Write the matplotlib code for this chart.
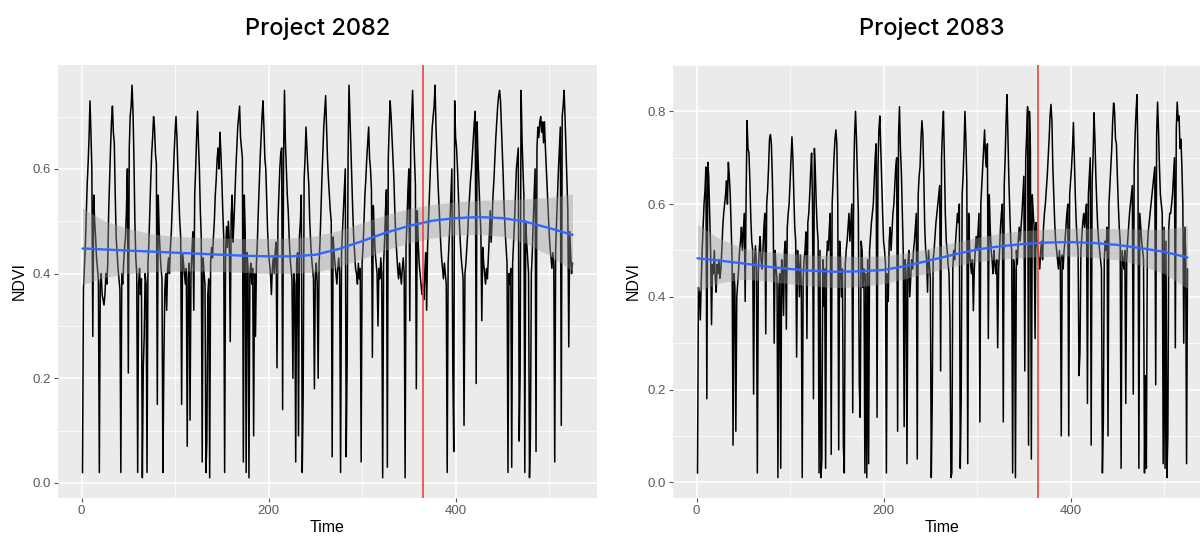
import numpy as np
import matplotlib
matplotlib.use("Agg")
import matplotlib.pyplot as plt

# ---------------- data ----------------
titles = ["Project 2082", "Project 2083"]
break_time = 365

ndvi_2082 = [
    0.02, 0.37, 0.41, 0.45, 0.51, 0.57, 0.61, 0.66, 0.73, 0.67, 0.60, 0.28, 0.55, 0.50, 0.47, 0.43, 0.41, 0.39, 0.02, 0.38, 0.40, 0.36, 0.35,
    0.34, 0.36, 0.40, 0.38, 0.42, 0.52, 0.58, 0.64, 0.69, 0.72, 0.67, 0.65, 0.55, 0.47, 0.44, 0.41, 0.39, 0.37, 0.02, 0.40, 0.38, 0.42, 0.45,
    0.47, 0.52, 0.60, 0.21, 0.64, 0.70, 0.72, 0.76, 0.71, 0.62, 0.50, 0.43, 0.40, 0.02, 0.38, 0.41, 0.36, 0.39, 0.01, 0.22, 0.28, 0.40, 0.38,
    0.02, 0.42, 0.46, 0.52, 0.58, 0.63, 0.66, 0.70, 0.68, 0.63, 0.61, 0.15, 0.55, 0.48, 0.44, 0.41, 0.39, 0.02, 0.23, 0.37, 0.40, 0.33, 0.41,
    0.43, 0.40, 0.45, 0.48, 0.53, 0.58, 0.63, 0.67, 0.70, 0.66, 0.60, 0.55, 0.50, 0.47, 0.15, 0.44, 0.42, 0.40, 0.38, 0.41, 0.07, 0.39, 0.42,
    0.12, 0.40, 0.44, 0.48, 0.33, 0.55, 0.60, 0.66, 0.71, 0.65, 0.60, 0.52, 0.47, 0.04, 0.43, 0.40, 0.38, 0.02, 0.08, 0.36, 0.39, 0.01, 0.42,
    0.45, 0.43, 0.47, 0.50, 0.55, 0.58, 0.62, 0.64, 0.60, 0.67, 0.63, 0.58, 0.52, 0.47, 0.02, 0.44, 0.49, 0.45, 0.50, 0.46, 0.27, 0.51, 0.55,
    0.46, 0.50, 0.55, 0.60, 0.64, 0.68, 0.70, 0.72, 0.66, 0.64, 0.62, 0.04, 0.55, 0.48, 0.02, 0.44, 0.41, 0.01, 0.40, 0.42, 0.38, 0.41, 0.09,
    0.40, 0.28, 0.42, 0.46, 0.52, 0.57, 0.62, 0.66, 0.70, 0.73, 0.68, 0.62, 0.60, 0.54, 0.48, 0.44, 0.42, 0.40, 0.36, 0.41, 0.43, 0.40, 0.44,
    0.46, 0.22, 0.50, 0.55, 0.60, 0.63, 0.64, 0.14, 0.62, 0.75, 0.65, 0.60, 0.55, 0.52, 0.47, 0.43, 0.41, 0.39, 0.20, 0.40, 0.38, 0.04, 0.42,
    0.44, 0.09, 0.47, 0.50, 0.55, 0.02, 0.17, 0.58, 0.62, 0.68, 0.64, 0.60, 0.57, 0.50, 0.46, 0.43, 0.41, 0.39, 0.18, 0.40, 0.42, 0.38, 0.20,
    0.42, 0.46, 0.52, 0.58, 0.63, 0.68, 0.71, 0.74, 0.68, 0.62, 0.58, 0.55, 0.52, 0.50, 0.05, 0.47, 0.44, 0.42, 0.40, 0.38, 0.41, 0.43, 0.40,
    0.02, 0.44, 0.48, 0.52, 0.56, 0.60, 0.05, 0.23, 0.62, 0.76, 0.70, 0.64, 0.58, 0.52, 0.47, 0.44, 0.41, 0.40, 0.38, 0.42, 0.39, 0.41, 0.04,
    0.42, 0.45, 0.50, 0.55, 0.58, 0.62, 0.65, 0.68, 0.62, 0.60, 0.56, 0.24, 0.53, 0.48, 0.44, 0.42, 0.40, 0.30, 0.41, 0.39, 0.43, 0.40, 0.01,
    0.42, 0.46, 0.52, 0.56, 0.03, 0.62, 0.68, 0.73, 0.70, 0.66, 0.62, 0.58, 0.52, 0.47, 0.44, 0.41, 0.39, 0.42, 0.40, 0.38, 0.41, 0.43, 0.40,
    0.01, 0.45, 0.50, 0.56, 0.60, 0.31, 0.64, 0.70, 0.75, 0.68, 0.62, 0.57, 0.18, 0.52, 0.46, 0.42, 0.40, 0.38, 0.36, 0.38, 0.35, 0.40, 0.44,
    0.33, 0.45, 0.50, 0.55, 0.60, 0.64, 0.68, 0.70, 0.72, 0.76, 0.68, 0.63, 0.58, 0.54, 0.50, 0.46, 0.43, 0.41, 0.39, 0.42, 0.40, 0.38, 0.02,
    0.42, 0.46, 0.50, 0.55, 0.60, 0.22, 0.06, 0.73, 0.66, 0.64, 0.60, 0.55, 0.50, 0.46, 0.43, 0.41, 0.39, 0.11, 0.40, 0.42, 0.45, 0.48, 0.52,
    0.55, 0.58, 0.60, 0.63, 0.66, 0.69, 0.71, 0.19, 0.69, 0.62, 0.57, 0.52, 0.48, 0.31, 0.45, 0.42, 0.40, 0.38, 0.41, 0.39, 0.43, 0.47, 0.52,
    0.46, 0.50, 0.55, 0.58, 0.62, 0.66, 0.69, 0.72, 0.74, 0.75, 0.73, 0.68, 0.63, 0.58, 0.52, 0.48, 0.45, 0.42, 0.02, 0.40, 0.38, 0.41, 0.03,
    0.42, 0.46, 0.50, 0.55, 0.60, 0.62, 0.64, 0.08, 0.21, 0.75, 0.66, 0.60, 0.55, 0.02, 0.50, 0.46, 0.43, 0.40, 0.01, 0.09, 0.40, 0.44, 0.50,
    0.55, 0.60, 0.06, 0.64, 0.68, 0.66, 0.69, 0.70, 0.67, 0.69, 0.65, 0.69, 0.64, 0.60, 0.56, 0.52, 0.48, 0.45, 0.43, 0.41, 0.44, 0.42, 0.04,
    0.45, 0.50, 0.55, 0.60, 0.64, 0.68, 0.11, 0.70, 0.72, 0.75, 0.70, 0.64, 0.58, 0.52, 0.26, 0.48, 0.44, 0.40, 0.42,
]

ndvi_2083 = [
    0.02, 0.42, 0.41, 0.35, 0.43, 0.50, 0.55, 0.60, 0.63, 0.68, 0.18, 0.69, 0.66, 0.58, 0.50, 0.34, 0.47, 0.45, 0.50, 0.44, 0.41, 0.47, 0.45,
    0.48, 0.44, 0.46, 0.50, 0.55, 0.58, 0.60, 0.62, 0.65, 0.60, 0.69, 0.66, 0.62, 0.55, 0.48, 0.08, 0.45, 0.42, 0.11, 0.40, 0.43, 0.46, 0.50,
    0.52, 0.55, 0.50, 0.54, 0.58, 0.39, 0.62, 0.78, 0.72, 0.71, 0.65, 0.57, 0.52, 0.50, 0.19, 0.48, 0.51, 0.47, 0.02, 0.45, 0.50, 0.53, 0.48,
    0.46, 0.50, 0.55, 0.58, 0.32, 0.60, 0.63, 0.68, 0.74, 0.75, 0.73, 0.66, 0.56, 0.30, 0.50, 0.46, 0.44, 0.01, 0.42, 0.45, 0.03, 0.48, 0.46,
    0.36, 0.50, 0.52, 0.33, 0.55, 0.58, 0.60, 0.65, 0.70, 0.745, 0.70, 0.62, 0.55, 0.52, 0.27, 0.50, 0.47, 0.40, 0.49, 0.42, 0.01, 0.44, 0.48,
    0.50, 0.54, 0.31, 0.56, 0.58, 0.62, 0.67, 0.71, 0.60, 0.18, 0.72, 0.67, 0.60, 0.55, 0.52, 0.02, 0.50, 0.01, 0.05, 0.48, 0.38, 0.46, 0.03,
    0.48, 0.52, 0.50, 0.55, 0.58, 0.06, 0.60, 0.65, 0.70, 0.74, 0.76, 0.73, 0.60, 0.07, 0.52, 0.48, 0.40, 0.46, 0.08, 0.02, 0.47, 0.50, 0.52,
    0.55, 0.58, 0.52, 0.56, 0.60, 0.15, 0.65, 0.75, 0.80, 0.74, 0.66, 0.58, 0.21, 0.14, 0.52, 0.50, 0.42, 0.46, 0.02, 0.45, 0.01, 0.48, 0.04,
    0.50, 0.53, 0.56, 0.58, 0.60, 0.65, 0.70, 0.73, 0.14, 0.68, 0.76, 0.79, 0.72, 0.65, 0.58, 0.52, 0.50, 0.47, 0.02, 0.45, 0.39, 0.52, 0.55,
    0.50, 0.54, 0.58, 0.60, 0.64, 0.68, 0.70, 0.11, 0.75, 0.81, 0.72, 0.67, 0.58, 0.50, 0.12, 0.48, 0.45, 0.04, 0.47, 0.50, 0.40, 0.44, 0.48,
    0.46, 0.50, 0.52, 0.55, 0.58, 0.05, 0.62, 0.66, 0.68, 0.74, 0.78, 0.75, 0.66, 0.55, 0.50, 0.48, 0.41, 0.50, 0.47, 0.44, 0.01, 0.17, 0.48,
    0.50, 0.53, 0.56, 0.58, 0.60, 0.62, 0.64, 0.24, 0.70, 0.76, 0.80, 0.70, 0.58, 0.52, 0.50, 0.47, 0.45, 0.35, 0.01, 0.02, 0.46, 0.50, 0.48,
    0.52, 0.55, 0.58, 0.56, 0.60, 0.03, 0.18, 0.62, 0.66, 0.72, 0.80, 0.74, 0.65, 0.04, 0.58, 0.50, 0.47, 0.45, 0.48, 0.37, 0.46, 0.50, 0.53,
    0.50, 0.54, 0.58, 0.13, 0.60, 0.64, 0.68, 0.72, 0.76, 0.70, 0.68, 0.73, 0.31, 0.62, 0.55, 0.50, 0.48, 0.45, 0.50, 0.47, 0.45, 0.48, 0.29,
    0.46, 0.50, 0.55, 0.58, 0.60, 0.13, 0.64, 0.70, 0.78, 0.836, 0.74, 0.65, 0.58, 0.52, 0.50, 0.02, 0.48, 0.46, 0.01, 0.50, 0.47, 0.52, 0.55,
    0.52, 0.55, 0.58, 0.62, 0.66, 0.24, 0.70, 0.75, 0.81, 0.08, 0.80, 0.72, 0.05, 0.62, 0.58, 0.55, 0.31, 0.56, 0.52, 0.50, 0.48, 0.46, 0.50,
    0.52, 0.48, 0.55, 0.58, 0.60, 0.63, 0.66, 0.70, 0.74, 0.79, 0.815, 0.78, 0.68, 0.62, 0.56, 0.52, 0.50, 0.48, 0.46, 0.50, 0.47, 0.10, 0.49,
    0.46, 0.50, 0.52, 0.55, 0.58, 0.60, 0.10, 0.62, 0.65, 0.68, 0.72, 0.776, 0.70, 0.62, 0.56, 0.52, 0.50, 0.23, 0.28, 0.50, 0.53, 0.56, 0.58,
    0.55, 0.58, 0.60, 0.17, 0.62, 0.66, 0.70, 0.08, 0.65, 0.70, 0.797, 0.74, 0.66, 0.60, 0.55, 0.52, 0.50, 0.48, 0.46, 0.02, 0.13, 0.48, 0.52,
    0.50, 0.55, 0.10, 0.60, 0.64, 0.68, 0.72, 0.78, 0.818, 0.80, 0.74, 0.73, 0.66, 0.60, 0.55, 0.52, 0.03, 0.50, 0.48, 0.46, 0.50, 0.17, 0.48,
    0.52, 0.55, 0.58, 0.60, 0.62, 0.64, 0.19, 0.68, 0.75, 0.80, 0.836, 0.70, 0.03, 0.58, 0.55, 0.52, 0.50, 0.48, 0.02, 0.23, 0.03, 0.50, 0.54,
    0.56, 0.58, 0.60, 0.62, 0.64, 0.66, 0.68, 0.21, 0.75, 0.82, 0.76, 0.68, 0.62, 0.60, 0.58, 0.04, 0.55, 0.03, 0.52, 0.01, 0.10, 0.55, 0.58,
    0.58, 0.60, 0.62, 0.66, 0.70, 0.29, 0.76, 0.82, 0.78, 0.79, 0.72, 0.74, 0.68, 0.60, 0.30, 0.55, 0.50, 0.04, 0.46,
]

# smoothed trend and its confidence band (read at knots)
smooth_t = [1, 25, 50, 75, 100, 125, 150, 175, 200, 225, 250, 275, 300, 325, 350, 375, 400, 425, 450, 475, 500, 525]
fit_2082 = [0.448, 0.446, 0.444, 0.442, 0.440, 0.438, 0.436, 0.434, 0.433, 0.433, 0.436, 0.447, 0.462, 0.478, 0.491, 0.501, 0.506, 0.508, 0.506, 0.499, 0.487, 0.474]
upr_2082 = [0.525, 0.500, 0.486, 0.476, 0.471, 0.469, 0.468, 0.467, 0.467, 0.468, 0.472, 0.482, 0.497, 0.512, 0.524, 0.532, 0.537, 0.540, 0.541, 0.543, 0.545, 0.552]
lwr_2082 = [0.379, 0.393, 0.400, 0.403, 0.405, 0.405, 0.404, 0.402, 0.400, 0.400, 0.403, 0.413, 0.428, 0.445, 0.458, 0.468, 0.474, 0.475, 0.471, 0.458, 0.435, 0.405]
fit_2083 = [0.483, 0.478, 0.472, 0.465, 0.460, 0.456, 0.454, 0.455, 0.458, 0.467, 0.479, 0.491, 0.502, 0.509, 0.514, 0.517, 0.518, 0.516, 0.512, 0.505, 0.497, 0.485]
upr_2083 = [0.556, 0.525, 0.505, 0.497, 0.493, 0.490, 0.488, 0.487, 0.488, 0.495, 0.505, 0.517, 0.528, 0.537, 0.543, 0.546, 0.548, 0.548, 0.547, 0.546, 0.545, 0.554]
lwr_2083 = [0.412, 0.430, 0.438, 0.434, 0.428, 0.423, 0.420, 0.422, 0.428, 0.440, 0.453, 0.466, 0.476, 0.481, 0.485, 0.487, 0.488, 0.485, 0.480, 0.468, 0.450, 0.418]

x_ticks = [0, 200, 400]
y_ticks_2082 = [0.0, 0.2, 0.4, 0.6]
y_ticks_2083 = [0.0, 0.2, 0.4, 0.6, 0.8]

assert len(ndvi_2082) == 525 and len(ndvi_2083) == 525

# ---------------- figure ----------------
W, H = 1200, 536
fig = plt.figure(figsize=(W / 100, H / 100), dpi=100)
fig.patch.set_facecolor("white")

axis_font = "Liberation Sans"
title_font = ["Inter", "DejaVu Sans"]

panels = [
    dict(title=titles[0], y=ndvi_2082, fit=fit_2082, upr=upr_2082, lwr=lwr_2082,
         yticks=y_ticks_2082, ylim=(-0.0287, 0.7985),
         rect=[58 / W, 1 - 498 / H, 539 / W, 433 / H], title_x=318 / W, ylab_x=19 / W),
    dict(title=titles[1], y=ndvi_2083, fit=fit_2083, upr=upr_2083, lwr=lwr_2083,
         yticks=y_ticks_2083, ylim=(-0.034, 0.878),
         rect=[673 / W, 1 - 498 / H, 539 / W, 433 / H], title_x=932 / W, ylab_x=633 / W),
]

for p in panels:
    ax = fig.add_axes(p["rect"])
    ax.set_facecolor("#EBEBEB")
    t = np.arange(1, len(p["y"]) + 1)
    ax.set_xlim(-25.2, 551.2)
    ax.set_ylim(*p["ylim"])

    # grid (ggplot theme_gray)
    ax.set_xticks(x_ticks)
    ax.set_yticks(p["yticks"])
    ax.set_xticks([100, 300, 500], minor=True)
    ax.set_yticks([v + 0.1 for v in p["yticks"]], minor=True)
    ax.grid(which="major", color="white", linewidth=1.1)
    ax.grid(which="minor", color="white", linewidth=0.55)
    ax.set_axisbelow(True)
    for s in ax.spines.values():
        s.set_visible(False)

    ax.plot(t, p["y"], color="black", linewidth=1.1, zorder=2)
    ax.fill_between(smooth_t, p["lwr"], p["upr"], color="#999999", alpha=0.4,
                    linewidth=0, zorder=3)
    ax.plot(smooth_t, p["fit"], color="#3366FF", linewidth=1.7, zorder=4,
            solid_capstyle="round")
    ax.axvline(break_time, color="#E8483A", linewidth=1.2, zorder=5)

    ax.tick_params(axis="both", which="major", length=3, width=0.8,
                   color="#555555", labelcolor="#5A5A5A", labelsize=9.5, pad=2)
    ax.tick_params(axis="both", which="minor", length=0)
    ax.set_xticklabels([str(v) for v in x_ticks], fontfamily=axis_font)
    ax.set_yticklabels([f"{v:.1f}" for v in p["yticks"]], fontfamily=axis_font)

    cx = p["rect"][0] + p["rect"][2] / 2
    fig.text(cx, 1 - 528 / H, "Time", ha="center", va="center",
             fontsize=11.5, fontfamily=axis_font, color="black")
    fig.text(p["ylab_x"], 1 - 281 / H, "NDVI", ha="center", va="center",
             rotation=90, fontsize=11.5, fontfamily=axis_font, color="black")
    fig.text(p["title_x"], 1 - 29 / H, p["title"], ha="center", va="center",
             fontsize=17, fontfamily=title_font, fontweight="medium", color="black")

fig.savefig("out.png", dpi=100, facecolor="white")
